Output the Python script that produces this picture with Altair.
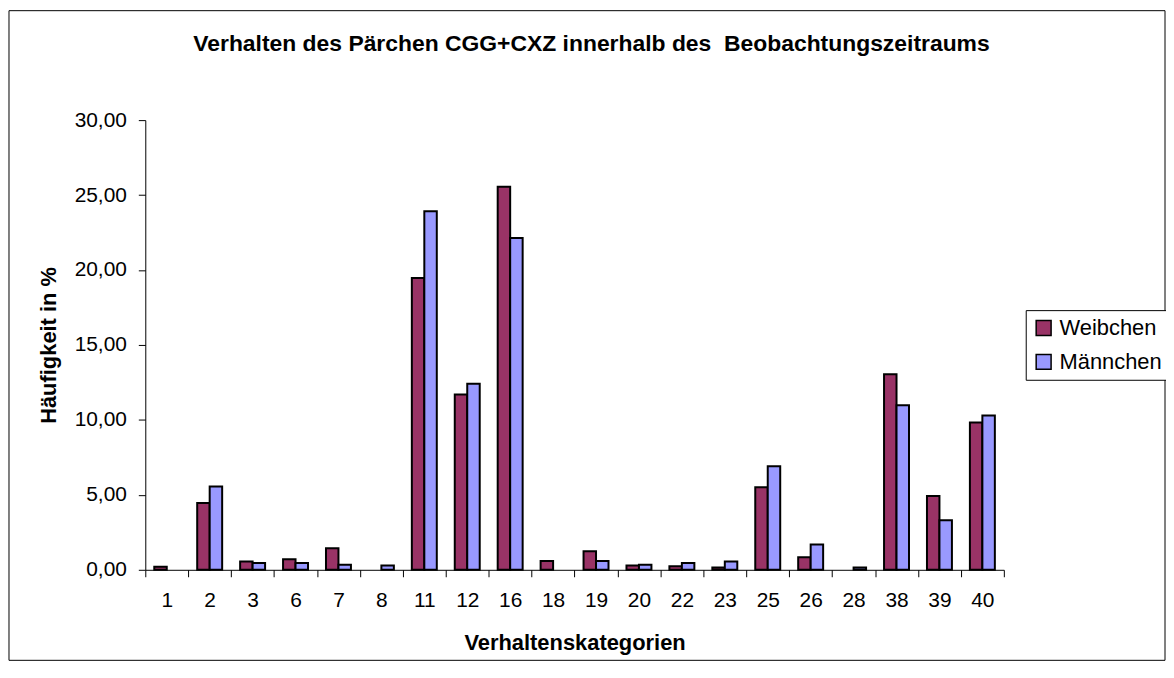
import altair as alt
import pandas as pd

categories = ["1", "2", "3", "6", "7", "8", "11", "12", "16", "18",
              "19", "20", "22", "23", "25", "26", "28", "38", "39", "40"]
weibchen = [0.20, 4.45, 0.55, 0.70, 1.44, 0.00, 19.47, 11.69, 25.55, 0.58,
            1.24, 0.29, 0.24, 0.15, 5.51, 0.84, 0.00, 13.04, 4.93, 9.82]
maennchen = [0.00, 5.55, 0.45, 0.45, 0.33, 0.29, 23.92, 12.41, 22.14, 0.00,
             0.58, 0.33, 0.46, 0.55, 6.90, 1.68, 0.15, 10.97, 3.30, 10.29]
series = ["Weibchen", "Männchen"]
colors = ["#993366", "#9999FF"]
y_ticks = [0, 5, 10, 15, 20, 25, 30]
title_text = "Verhalten des Pärchen CGG+CXZ innerhalb des \u00a0Beobachtungszeitraums"

rows = []
for c, w, m in zip(categories, weibchen, maennchen):
    rows.append({"Kategorie": c, "Geschlecht": series[0], "Wert": w})
    rows.append({"Kategorie": c, "Geschlecht": series[1], "Wert": m})
df = pd.DataFrame(rows)

W, H = 863, 452

bars = alt.Chart(df).transform_filter("datum.Wert > 0").mark_bar(
    stroke="black", strokeWidth=2
).encode(
    x=alt.X("Kategorie:N", sort=categories,
            scale=alt.Scale(domain=categories, paddingInner=0, paddingOuter=0),
            axis=alt.Axis(title="Verhaltenskategorien", labelAngle=0,
                          tickBand="extent", tickSize=7, labelPadding=13,
                          labelFontSize=21, titleFontSize=22,
                          titleFontWeight="bold", titleY=73,
                          titleBaseline="middle", domainColor="black",
                          tickColor="black", labelColor="black",
                          titleColor="black", grid=False)),
    xOffset=alt.XOffset("Geschlecht:N", sort=series,
                        scale=alt.Scale(domain=series, paddingInner=0,
                                        paddingOuter=0.72)),
    y=alt.Y("Wert:Q", scale=alt.Scale(domain=[0, 30], nice=False),
            axis=alt.Axis(title="Häufigkeit in %", values=y_ticks,
                          labelExpr="replace(format(datum.value, '.2f'), '.', ',')",
                          tickSize=7, labelPadding=12, labelFontSize=21,
                          titleFontSize=22, titleFontWeight="bold",
                          titleX=-97, titleBaseline="middle",
                          domainColor="black", tickColor="black",
                          labelColor="black", titleColor="black", grid=False)),
    color=alt.Color("Geschlecht:N", sort=series,
                    scale=alt.Scale(domain=series, range=colors),
                    legend=alt.Legend(orient="none", legendX=885, legendY=191,
                                      title=None, strokeColor="black",
                                      fillColor="white", padding=7,
                                      symbolType="square", symbolSize=225,
                                      symbolStrokeColor="black",
                                      symbolStrokeWidth=1.5,
                                      labelFontSize=22, labelColor="black",
                                      rowPadding=12, labelOffset=5,
                                      labelLimit=300)),
)

border = alt.Chart(pd.DataFrame({"a": [0]})).mark_rect(
    fill="white", fillOpacity=0, stroke="black", strokeWidth=1
).encode(x=alt.value(-137), x2=alt.value(1025),
         y=alt.value(-110), y2=alt.value(543))

chart = alt.layer(border, bars).properties(
    width=W, height=H,
    title=alt.TitleParams(
        title_text,
        fontSize=23, fontWeight="bold", anchor="middle", dx=17, offset=-46,
        color="black"),
    autosize=alt.AutoSizeParams(type="none"),
    padding={"left": 138, "top": 111, "right": 163, "bottom": 92},
).configure(font="Liberation Sans").configure_view(stroke=None)

chart.save("out.html", embed_options={"renderer": "svg", "actions": False})
